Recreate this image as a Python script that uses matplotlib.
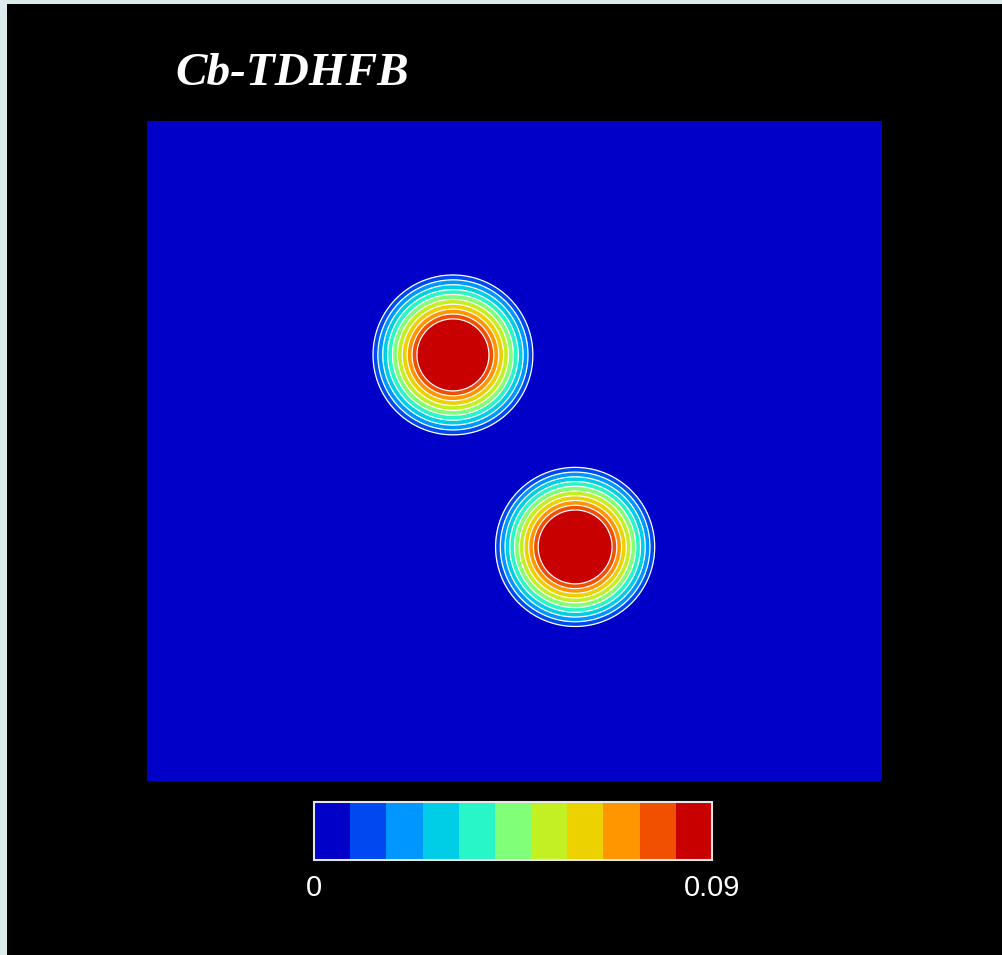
import numpy as np
import matplotlib
matplotlib.use("Agg")
import matplotlib.pyplot as plt
from matplotlib.colors import ListedColormap, BoundaryNorm
from matplotlib.patches import Rectangle

# ---- data ----
title_text = "Cb-TDHFB"
x_range = [-20.0, 20.0]          # fm
y_range = [-17.96, 17.96]        # fm
nucleus_x = [-3.35, 3.30]        # centres of the two nuclei
nucleus_y = [5.23, -5.22]
core_radius = [1.96, 2.01]       # radius where density reaches the top band
outer_radius = [4.35, 4.33]      # radius of the outermost contour
vmin, vmax = 0.0, 0.09
n_bands = 11
band_colors = ["#0000c8", "#0048f0", "#0096ff", "#00cde6", "#28f5c8",
               "#80ff78", "#c3f023", "#ebd200", "#ff9600", "#f05000", "#c80000"]
tick_labels = ["0", "0.09"]

levels = np.linspace(vmin, vmax, n_bands + 1)

# ---- field: radial density of each nucleus, ramping between the read radii ----
x = np.linspace(x_range[0], x_range[1], 401)
y = np.linspace(y_range[0], y_range[1], 361)
X, Y = np.meshgrid(x, y)
rho = np.zeros_like(X)
lo, hi = levels[1], levels[-2]
for cx, cy, Rin, Rout in zip(nucleus_x, nucleus_y, core_radius, outer_radius):
    r = np.hypot(X - cx, Y - cy)
    rho += np.clip(lo + (hi - lo) * (Rout - r) / (Rout - Rin), 0.0, 0.16)

levels_fill = levels.copy()
levels_fill[-1] = 10.0
cmap = ListedColormap(band_colors)
norm = BoundaryNorm(levels, cmap.N)

W, H = 1003, 955
fig = plt.figure(figsize=(W / 100, H / 100), dpi=100)
fig.patch.set_facecolor("#dcebeb")
fig.add_artist(Rectangle((7 / W, 0), 1 - 7 / W, 1 - 4 / H, transform=fig.transFigure,
                         facecolor="black", edgecolor="none", zorder=-1))

ax = fig.add_axes([147 / W, (H - 781) / H, 735 / W, 660 / H])
ax.set_facecolor(band_colors[0])
ax.contourf(X, Y, rho, levels=levels_fill, colors=band_colors)
ax.contour(X, Y, rho, levels=levels[1:-1], colors="white", linewidths=0.9)
ax.set_xlim(x_range)
ax.set_ylim(y_range)
ax.set_xticks([])
ax.set_yticks([])
for s in ax.spines.values():
    s.set_visible(False)

fig.text(175 / W, (H - 85) / H, title_text, color="white", fontsize=34,
         fontfamily="Liberation Serif", fontweight="bold", fontstyle="italic",
         ha="left", va="baseline")

# colorbar
cax = fig.add_axes([314 / W, (H - 860) / H, 398 / W, 58 / H])
sm = matplotlib.cm.ScalarMappable(norm=norm, cmap=cmap)
cb = fig.colorbar(sm, cax=cax, orientation="horizontal")
cb.outline.set_edgecolor("#e6e6e6")
cb.outline.set_linewidth(1.5)
cax.set_xticks([])
fig.text(314 / W, (H - 888) / H, tick_labels[0], color="white", fontsize=21,
         fontfamily="Liberation Sans", ha="center", va="center")
fig.text(712 / W, (H - 888) / H, tick_labels[1], color="white", fontsize=21,
         fontfamily="Liberation Sans", ha="center", va="center")

fig.savefig("out.png", dpi=100, facecolor=fig.get_facecolor())
